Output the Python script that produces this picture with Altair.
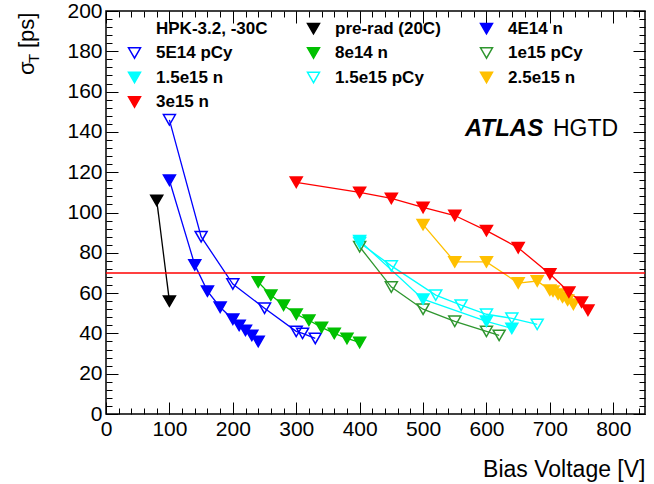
import altair as alt
import pandas as pd

# ---------------- data ----------------
series_names = ["HPK-3.2, -30C", "pre-rad (20C)", "4E14 n", "5E14 pCy", "8e14 n",
                "1e15 pCy", "1.5e15 n", "1.5e15 pCy", "2.5e15 n", "3e15 n"]
stroke_colors = ["transparent", "#000000", "#0000ff", "#0000ff", "#00c000",
                 "#2f962f", "#00ffff", "#00ffff", "#ffc000", "#ff0000"]
fill_colors = ["transparent", "#000000", "#0000ff", "transparent", "#00c000",
               "transparent", "#00ffff", "transparent", "#ffc000", "#ff0000"]

prerad_v = [80, 100]
prerad_t = [106, 56]
n4e14_v = [100, 140, 160, 180, 200, 210, 220, 230, 240]
n4e14_t = [116, 74, 61, 53, 47, 44, 41.5, 39, 36]
p5e14_v = [100, 150, 200, 250, 300, 310, 330]
p5e14_t = [146, 88, 64.5, 52.5, 41, 40, 37.5]
n8e14_v = [240, 260, 280, 300, 320, 340, 360, 380, 400]
n8e14_t = [65.5, 59, 54, 49.5, 46.5, 43, 40, 37.5, 35.5]
p1e15_v = [400, 450, 500, 550, 600, 620]
p1e15_t = [83, 63, 52, 46, 41, 39]
n15e15_v = [400, 500, 600, 640]
n15e15_t = [86, 57, 46, 42.5]
p15e15_v = [400, 450, 520, 560, 600, 640, 680]
p15e15_t = [85, 73.5, 59, 54, 49.5, 47.5, 44.5]
n25e15_v = [500, 550, 600, 650, 680, 700, 705, 713, 720, 728, 737]
n25e15_t = [94, 75.5, 75.5, 65, 66, 61.5, 61, 59.5, 58, 56.5, 54.5]
n3e15_v = [300, 400, 450, 500, 550, 600, 650, 700, 730, 750, 760]
n3e15_t = [115, 110, 107, 102.5, 98.5, 91, 82.5, 69.5, 60.5, 55.5, 51.5]
threshold = [70]

x_major = list(range(0, 801, 100))
x_minor = list(range(0, 851, 20))
y_major = list(range(0, 201, 20))
y_minor = list(range(0, 201, 4))

series_data = {
    "pre-rad (20C)": (prerad_v, prerad_t),
    "4E14 n": (n4e14_v, n4e14_t),
    "5E14 pCy": (p5e14_v, p5e14_t),
    "8e14 n": (n8e14_v, n8e14_t),
    "1e15 pCy": (p1e15_v, p1e15_t),
    "1.5e15 n": (n15e15_v, n15e15_t),
    "1.5e15 pCy": (p15e15_v, p15e15_t),
    "2.5e15 n": (n25e15_v, n25e15_t),
    "3e15 n": (n3e15_v, n3e15_t),
}
rows = []
for name, (vs, ts) in series_data.items():
    for v, t in zip(vs, ts):
        rows.append({"series": name, "v": v, "t": t})
df = pd.DataFrame(rows)

FONT = "Liberation Sans"
X_SCALE = alt.Scale(domain=[0, 850], nice=False, zero=False)
Y_SCALE = alt.Scale(domain=[0, 200], nice=False, zero=False)
STROKE_SCALE = alt.Scale(domain=series_names, range=stroke_colors)
FILL_SCALE = alt.Scale(domain=series_names, range=fill_colors)


def tick_axis(orient, values, size):
    return alt.Axis(orient=orient, values=values, ticks=True, tickSize=size,
                    tickWidth=1, tickColor="black", offset=-size, labels=False,
                    domain=False, grid=False, title=None)


legend = alt.Legend(title=None, orient="none", legendX=20, legendY=9, columns=3,
                    direction="horizontal",
                    symbolType="triangle-down", symbolSize=144, symbolStrokeWidth=1.5,
                    symbolFillColor="transparent", symbolOpacity=1,
                    labelFont=FONT, labelFontSize=17, labelFontWeight="bold",
                    labelColor="black", labelOffset=13, columnPadding=36,
                    rowPadding=6.5, padding=0, gridAlign="each", labelLimit=300)

lines = alt.Chart(df).mark_line(strokeWidth=1.3).encode(
    x=alt.X("v:Q", scale=X_SCALE,
            axis=alt.Axis(orient="bottom", values=x_major, ticks=False, tickSize=0,
                          domain=False, grid=False, labelFont=FONT, labelFontSize=21,
                          labelColor="black", labelPadding=4, labelFlush=False,
                          title="Bias Voltage [V]", titleFont=FONT, titleFontSize=23,
                          titleFontWeight="normal", titleColor="black",
                          titleAnchor="end", titleAlign="right",
                          titleBaseline="alphabetic", titleY=62)),
    y=alt.Y("t:Q", scale=Y_SCALE,
            axis=alt.Axis(orient="left", values=y_major, ticks=False, tickSize=0,
                          domain=False, grid=False, labelFont=FONT, labelFontSize=21,
                          labelColor="black", labelPadding=4, title=None)),
    stroke=alt.Stroke("series:N", scale=STROKE_SCALE, legend=legend),
    detail="series:N",
)

rule = alt.Chart(pd.DataFrame({"thr": threshold})).mark_rule(
    color="#ff0000", strokeWidth=1.5).encode(
    y=alt.Y("thr:Q", scale=Y_SCALE, axis=None))

points = alt.Chart(df).mark_point(shape="triangle-down", size=144, strokeWidth=1.5,
                                  opacity=1).encode(
    x=alt.X("v:Q", scale=X_SCALE, axis=tick_axis("bottom", x_major, 12)),
    y=alt.Y("t:Q", scale=Y_SCALE, axis=tick_axis("left", y_major, 12)),
    stroke=alt.Stroke("series:N", scale=STROKE_SCALE, legend=legend),
    fill=alt.Fill("series:N", scale=FILL_SCALE, legend=legend),
)

minor_bl = alt.Chart(df).mark_point(opacity=0).encode(
    x=alt.X("v:Q", scale=X_SCALE, axis=tick_axis("bottom", x_minor, 6)),
    y=alt.Y("t:Q", scale=Y_SCALE, axis=tick_axis("left", y_minor, 6)),
)
major_tr = alt.Chart(df).mark_point(opacity=0).encode(
    x=alt.X("v:Q", scale=X_SCALE, axis=tick_axis("top", x_major, 12)),
    y=alt.Y("t:Q", scale=Y_SCALE, axis=tick_axis("right", y_major, 12)),
)
minor_tr = alt.Chart(df).mark_point(opacity=0).encode(
    x=alt.X("v:Q", scale=X_SCALE, axis=tick_axis("top", x_minor, 6)),
    y=alt.Y("t:Q", scale=Y_SCALE, axis=tick_axis("right", y_minor, 6)),
)


def label(text, x, y, size, **kw):
    return alt.Chart(pd.DataFrame({"t": [text]})).mark_text(
        font=FONT, fontSize=size, color="black", **kw).encode(
        x=alt.value(x), y=alt.value(y), text="t:N")


atlas = label("ATLAS", 359, 125, 24, fontWeight="bold", fontStyle="italic",
              align="left", baseline="alphabetic")
hgtd = label("HGTD", 447, 125, 23, align="left", baseline="alphabetic")
ysig = label("σ", -72, 64, 22, angle=270, align="left", baseline="alphabetic")
ysub = label("T", -67, 52, 15, angle=270, align="left", baseline="alphabetic")
yps = label("[ps]", -72, 37, 22, angle=270, align="left", baseline="alphabetic")

chart = alt.layer(
    lines, rule, points, minor_bl, major_tr, minor_tr, atlas, hgtd, ysig, ysub, yps
).resolve_axis(x="independent", y="independent").properties(
    width=539, height=403,
    padding={"left": 106, "top": 11, "right": 9, "bottom": 70},
    autosize=alt.AutoSizeParams(type="none"),
    background="white",
).configure_view(stroke="black", strokeWidth=1.5)

chart.save("out.html", embed_options={"renderer": "svg", "actions": False})
